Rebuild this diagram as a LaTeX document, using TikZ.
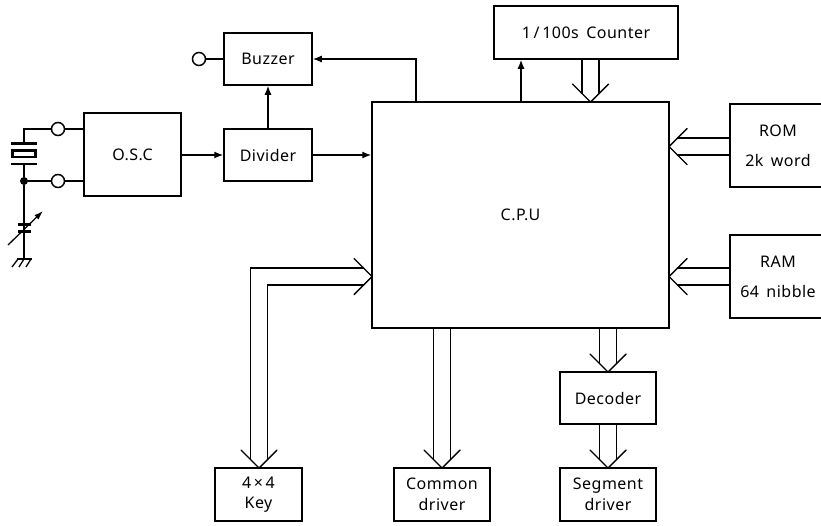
\documentclass[tikz,border=0pt]{standalone}
\usepackage{fontspec}
\setmainfont[LetterSpace=3,WordSpace=1.6]{Noto Sans}
\usetikzlibrary{arrows.meta}
\tikzset{
  blockbox/.style={draw=black,line width=1.5pt,fill=white,inner sep=0pt,align=center,font=\fontsize{16}{19}\selectfont},
  wire/.style={draw=black,line width=1.3pt},
  sig/.style={wire,-{Latex[length=9pt,width=7pt]}},
  bus/.style={draw=black,line width=1.4pt,line cap=round},
  terminal/.style={circle,draw=black,line width=1.5pt,fill=white,minimum size=13pt,inner sep=0pt},
  dotnode/.style={circle,fill=black,minimum size=8pt,inner sep=0pt},
  thickplate/.style={draw=black,line width=2.6pt},
}
\newcommand{\downbus}[2]{%
  \path (#2) ++(-8.5,-8.5) coordinate (bl) (#2) ++(8.5,-8.5) coordinate (br);
  \draw[bus] (bl |- #1.south) -- (bl);
  \draw[bus] (br |- #1.south) -- (br);
  \draw[bus] (#2) ++(-18,-18) -- (#2) -- ++(18,-18);
}
\newcommand{\leftbus}[2]{%
  \path (#2) ++(8.5,-8.5) coordinate (bl) (#2) ++(8.5,8.5) coordinate (br);
  \draw[bus] (bl -| #1.west) -- (bl);
  \draw[bus] (br -| #1.west) -- (br);
  \draw[bus] (#2) ++(18,-18) -- (#2) -- ++(18,18);
}
\begin{document}
\begin{tikzpicture}[x=1pt,y=-1pt]
\useasboundingbox (0,0) rectangle (821,525);
% blocks
\node[blockbox,minimum width=97pt,minimum height=83pt] (osc) at (132.5,154.5) {O.S.C};
\node[blockbox,minimum width=88pt,minimum height=52pt] (buz) at (268,59) {Buzzer};
\node[blockbox,minimum width=88pt,minimum height=52pt] (div) at (268,155) {Divider};
\node[blockbox,minimum width=297pt,minimum height=226pt] (cpu) at (520.5,215) {C.P.U};
\node[blockbox,minimum width=184pt,minimum height=53pt] (cnt) at (586,32.5) {1\,/\,100s Counter};
\node[blockbox,minimum width=96pt,minimum height=83pt,font=\fontsize{16}{30}\selectfont] (rom) at (778,145.5) {ROM\\2k word};
\node[blockbox,minimum width=96pt,minimum height=83pt,font=\fontsize{16}{30}\selectfont] (ram) at (778,276.5) {RAM\\64 nibble};
\node[blockbox,minimum width=87pt,minimum height=53pt,font=\fontsize{16}{20.5}\selectfont] (key) at (258.5,494.5) {4\,×\,4\\Key};
\node[blockbox,minimum width=96pt,minimum height=53pt,font=\fontsize{16}{20.5}\selectfont] (com) at (442,494.5) {Common\\driver};
\node[blockbox,minimum width=96pt,minimum height=52pt] (dec) at (608,398) {Decoder};
\node[blockbox,minimum width=96pt,minimum height=53pt,font=\fontsize{16}{20.5}\selectfont] (seg) at (608,494.5) {Segment\\driver};
% terminals
\node[terminal] (t1) at (58,129) {};
\node[terminal] (t2) at (58,181) {};
\node[terminal] (t3) at (199,59) {};
\node[dotnode] (jn) at (24,181) {};
% thin signals
\draw[sig] (osc.east |- div.west) -- (div.west);
\draw[sig] (div.east) -- (cpu.west |- div.east);
\draw[sig] (div.north) -- (buz.south);
\coordinate (bt) at (416,102);
\draw[sig] (bt) |- (buz.east);
\coordinate (ct) at (521,102);
\draw[sig] (ct) -- (ct |- cnt.south);
% left input
\draw[wire] (t3) -- (buz.west);
\draw[wire] (t1) -- (t1 -| osc.west);
\draw[wire] (t2) -- (t2 -| osc.west);
\draw[wire] (jn) -- (t2);
\coordinate (xtop) at (24,129);
\coordinate (xplate) at (24,143);
\coordinate (gnd) at (24,259);
\draw[wire] (t1) -- (xtop) -- (xplate);
\draw[wire] (jn) -- (gnd);
\draw[wire] (jn) -- (24,164);
\draw[thickplate] (11,143.5) -- (37,143.5);
\draw[thickplate,fill=white] (12.5,150.5) rectangle (35.5,157);
\draw[thickplate] (11,164) -- (37,164);
% variable capacitor
\draw[thickplate] (18,224.5) -- (31,224.5);
\draw[thickplate] (18,231.5) -- (31,231.5);
\draw[wire,-{Latex[length=9pt,width=6pt]}] (8,245) -- (43,211);
% ground
\draw[wire,line width=1.6pt] (17,259) -- (32,259);
\draw[wire] (18,259) -- (12,267);
\draw[wire] (24,259) -- (19,267);
\draw[wire] (31,259) -- (26,267);
% buses
\coordinate (tipcnt) at (590.5,102);
\coordinate (tipcom) at (442,468);
\coordinate (tipdec) at (608,372);
\coordinate (tipseg) at (608,468);
\coordinate (tiprom) at (669,146.5);
\coordinate (tipram) at (669,276.5);
\coordinate (tipkey) at (259,468);
\coordinate (tipcpu) at (372,276.5);
\downbus{cnt}{tipcnt}
\downbus{cpu}{tipcom}
\downbus{cpu}{tipdec}
\downbus{dec}{tipseg}
\leftbus{rom}{tiprom}
\leftbus{ram}{tipram}
% key bus
\draw[bus] (250.5,459.5) -- (250.5,268) -- (363.5,268);
\draw[bus] (267.5,459.5) -- (267.5,285) -- (363.5,285);
\draw[bus] (tipkey) ++(-18,-18) -- (tipkey) -- ++(18,-18);
\draw[bus] (tipcpu) ++(-18,-18) -- (tipcpu) -- ++(-18,18);
\end{tikzpicture}
\end{document}
